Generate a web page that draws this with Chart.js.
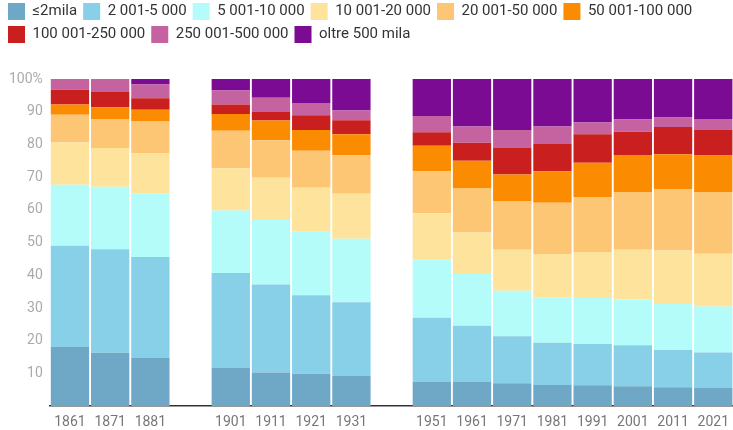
<!DOCTYPE html>
<html>
<head>
<meta charset="utf-8">
<script src="https://cdn.jsdelivr.net/npm/chart.js@4"></script>
<style>
  html, body { margin: 0; padding: 0; background: #fff; overflow: hidden; width: 733px; height: 430px; }
  #c { position: absolute; left: -1px; top: -3px; }
</style>
</head>
<body>
<canvas id="c" width="738" height="442"></canvas>
<script>
// anni del censimento (1891 e 1941 senza dati)
var anni = ['1861', '1871', '1881', '', '1901', '1911', '1921', '1931', '', '1951', '1961', '1971', '1981', '1991', '2001', '2011', '2021'];

// quote % di popolazione per classe di ampiezza dei comuni
var fino2mila   = [18.1, 16.3, 14.7, null, 11.8, 10.3,  9.9,  9.2, null,  7.4,  7.4,  7.0,  6.5,  6.4,  6.1,  5.8,  5.6];
var da2a5       = [30.9, 31.7, 30.9, null, 28.9, 26.9, 24.0, 22.6, null, 19.6, 17.2, 14.4, 12.9, 12.6, 12.5, 11.4, 10.8];
var da5a10      = [18.7, 19.1, 19.4, null, 19.1, 19.7, 19.4, 19.4, null, 17.9, 15.8, 13.9, 13.9, 14.1, 14.0, 14.0, 14.1];
var da10a20     = [12.9, 11.8, 12.2, null, 12.9, 12.9, 13.5, 13.7, null, 14.1, 12.7, 12.5, 13.2, 14.0, 15.2, 16.4, 16.1];
var da20a50     = [ 8.5,  8.9,  9.8, null, 11.5, 11.5, 11.3, 11.8, null, 12.8, 13.6, 14.9, 15.7, 16.8, 17.7, 18.8, 18.9];
var da50a100    = [ 3.1,  3.6,  3.6, null,  5.1,  6.0,  6.3,  6.4, null,  7.8,  8.3,  8.1,  9.6, 10.5, 11.3, 10.6, 11.1];
var da100a250   = [ 4.5,  4.6,  3.5, null,  2.9,  2.8,  4.5,  4.3, null,  4.1,  5.5,  8.3,  8.5,  8.7,  7.1,  8.3,  8.0];
var da250a500   = [ 3.3,  4.0,  4.2, null,  4.3,  4.2,  3.8,  3.0, null,  5.0,  5.0,  5.3,  5.2,  3.6,  3.7,  2.9,  3.2];
var oltre500    = [ 0.0,  0.0,  1.7, null,  3.5,  5.7,  7.3,  9.6, null, 11.3, 14.5, 15.6, 14.5, 13.3, 12.4, 11.8, 12.2];

var etichette = ['\u22642mila', '2 001-5 000', '5 001-10 000', '10 001-20 000', '20 001-50 000', '50 001-100 000', '100 001-250 000', '250 001-500 000', 'oltre 500 mila'];
var serie = [fino2mila, da2a5, da5a10, da10a20, da20a50, da50a100, da100a250, da250a500, oltre500];
var colori = ['#6fa8c7', '#87d0e8', '#b3fcf9', '#fee39c', '#fdc675', '#fb8b00', '#c91f1f', '#c563a0', '#7b0b93'];

var datasets = serie.map(function(valori, i) {
  return {
    label: etichette[i],
    data: valori,
    backgroundColor: colori[i],
    borderWidth: 0,
    barPercentage: 0.953,
    categoryPercentage: 1
  };
});

// spazio extra sotto la legenda
var spazioLegenda = {
  id: 'spazioLegenda',
  beforeInit: function(chart) {
    var fitOrig = chart.legend.fit;
    chart.legend.fit = function() {
      fitOrig.bind(chart.legend)();
      this.height += 26;
    };
  }
};

Chart.defaults.font.family = 'Roboto, "Noto Sans", sans-serif';

new Chart(document.getElementById('c'), {
  type: 'bar',
  data: { labels: anni, datasets: datasets },
  plugins: [spazioLegenda],
  options: {
    responsive: false,
    animation: false,
    layout: { padding: { left: 3, right: 0, top: 0, bottom: 0 } },
    plugins: {
      legend: {
        position: 'top',
        align: 'start',
        labels: {
          boxWidth: 17,
          boxHeight: 17,
          padding: 6,
          color: '#333',
          font: { size: 15 }
        }
      },
      tooltip: { enabled: false }
    },
    scales: {
      x: {
        stacked: true,
        grid: { display: false, drawTicks: false },
        border: { display: true, color: '#333', width: 1.5 },
        ticks: { color: '#777', font: { size: 14 }, padding: 8, autoSkip: false, maxRotation: 0 }
      },
      y: {
        stacked: true,
        min: 0,
        max: 100,
        grid: { display: false, drawTicks: false },
        border: { display: false },
        ticks: {
          stepSize: 10,
          color: '#aaa',
          font: { size: 14 },
          padding: 7,
          callback: function(v) { return v === 0 ? '' : (v === 100 ? '100%' : v); }
        }
      }
    }
  }
});
</script>
</body>
</html>
